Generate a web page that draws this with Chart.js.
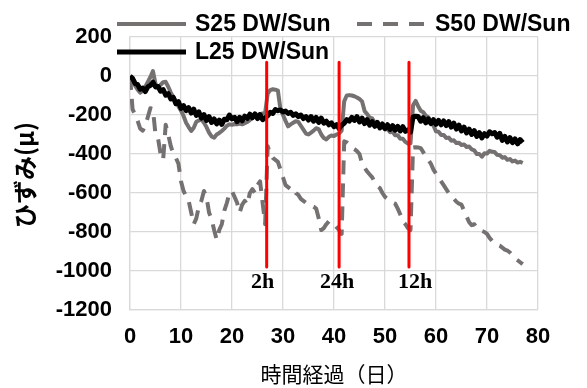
<!DOCTYPE html>
<html>
<head>
<meta charset="utf-8">
<script src="https://cdn.jsdelivr.net/npm/chart.js@4/dist/chart.umd.min.js"></script>
<style>
html,body{margin:0;padding:0;background:#fff;}
#wrap{width:587px;height:388px;position:relative;}
</style>
</head>
<body>
<div id="wrap"><canvas id="c" width="587" height="388"></canvas></div>
<script>
// Values sampled every half day (index i -> day i/2)
const seriesNames = ['S25 DW/Sun', 'S50 DW/Sun', 'L25 DW/Sun'];
const stepDays = 0.5;
const s25 = [
  0,-30, -50,-70, -85,-75, -55,-30, -5,25, -40,-60, -45,-32, -30,-55, -85,-110, -130,-155,
  -178,-205, -240,-262, -282,-265, -235,-228, -222,-240, -262,-290, -310,-316, -300,-292, -282,-270, -255,-248,
  -250,-246, -248,-244, -248,-242, -236,-226, -215,-205, -200,-196, -192,-188, -90,-72, -68,-70, -75,-170,
  -200,-230, -258,-248, -240,-232, -235,-255, -275,-295, -300,-290, -280,-268, -272,-300, -318,-325, -312,-305,
  -308,-300, -295,-280, -130,-100, -98,-100, -104,-110, -118,-130, -180,-195, -214,-218, -240,-242, -258,-258,
  -274,-272, -288,-286, -304,-304, -322,-322, -338,-346, -345,-150, -128,-155, -178,-186, -204,-211, -242,-254,
  -284,-286, -302,-302, -318,-316, -332,-330, -344,-342, -354,-351, -364,-362, -376,-381, -400,-400, -414,-396,
  -398,-384, -389,-390, -404,-406, -419,-416, -430,-426, -438,-434, -444,-440, -446
];
const s50 = [
  0,-170, -200,-230, -270,-280, -255,-210, -165,-170, -300,-320, -400,-430, -250,-300, -360,-400, -420,-450,
  -540,-590, -615,-640, -700,-760, -730,-670, -640,-590, -620,-700, -735,-790, -840,-790, -760,-690, -650,-600,
  -590,-620, -650,-700, -660,-640, -660,-600, -580,-600, -560,-540, -650,-760, -360,-400, -420,-430, -440,-480,
  -520,-560, -570,-580, -575,-600, -610,-630, -640,-650, -660,-665, -670,-680, -730,-790, -780,-760, -745,-750,
  -760,-775, -790,-810, -335,-340, -350,-367, -375,-385, -400,-450, -470,-490, -505,-520, -545,-565, -575,-600,
  -620,-630, -640,-650, -655,-680, -710,-745, -760,-780, -790,-367, -365,-367, -370,-390, -410,-430, -450,-480,
  -500,-520, -540,-560, -580,-600, -610,-630, -645,-655, -660,-690, -720,-750, -765,-760, -780,-790, -795,-800,
  -810,-830, -845,-860, -865,-870, -880,-890, -895,-905, -920,-935, -945,-955, -965
];
const l25 = [
  0,-12, -38,-44, -68,-62, -80,-56, -48,-32, -56,-54, -78,-70, -98,-90, -118,-110, -142,-132,
  -166,-152, -178,-162, -190,-170, -202,-184, -216,-198, -228,-208, -238,-220, -246,-226, -248,-222, -224,-200,
  -220,-212, -234,-212, -230,-206, -218,-196, -214,-194, -218,-198, -224,-214, -204,-186, -192,-172, -178,-174,
  -184,-180, -192,-186, -202,-194, -208,-200, -218,-208, -226,-208, -232,-212, -238,-216, -242,-232, -250,-240,
  -260,-250, -270,-252, -242,-224, -232,-212, -228,-208, -236,-216, -244,-224, -252,-234, -258,-238, -266,-246,
  -270,-250, -274,-254, -278,-258, -282,-260, -284,-276, -288,-210, -206,-208, -232,-214, -240,-220, -244,-224,
  -248,-228, -250,-230, -254,-234, -262,-242, -272,-252, -282,-262, -292,-272, -300,-280, -310,-290, -318,-296,
  -308,-286, -296,-290, -314,-294, -330,-310, -338,-316, -342,-322, -348,-326, -342
];
// vertical red marker lines and their labels
const markerDays = [26.8, 41.0, 54.7];
const markerTop = 70;
const markerBottom = -980;
const markerLabels = ['2h', '24h', '12h'];
const markerLabelDays = [26.0, 40.6, 55.9];
const markerLabelValue = -1060;
// axis settings
const xTicks = [0, 80, 10];   // min, max, step
const yTicks = [-1200, 200, 200];
const xTitle = '時間経過（日）';
const yTitle = 'ひずみ(μ)';

const toXY = arr => arr.map((v, i) => ({x: i * stepDays, y: v}));

const GRAY = '#767171';
const datasets = [];
markerDays.forEach((d, k) => {
  datasets.push({
    label: 'marker' + k, data: [{x: d, y: markerTop}, {x: d, y: markerBottom}],
    borderColor: '#ff0000', borderWidth: 3, pointRadius: 0, order: 0
  });
});
datasets.push({label: seriesNames[2], data: toXY(l25), borderColor: '#000000', borderWidth: 5, pointRadius: 0, order: 1});
datasets.push({label: seriesNames[0], data: toXY(s25), borderColor: GRAY, borderWidth: 4, pointRadius: 0, order: 2});
datasets.push({label: seriesNames[1], data: toXY(s50), borderColor: GRAY, borderWidth: 4, borderDash: [14, 9], pointRadius: 0, order: 3});

const legendItems = [
  {name: seriesNames[0], color: GRAY, dash: [], width: 4, x: 117, y: 24},
  {name: seriesNames[1], color: GRAY, dash: [15, 11], width: 4, x: 357, y: 24},
  {name: seriesNames[2], color: '#000', dash: [], width: 5, x: 117, y: 52}
];

const customPlugin = {
  id: 'custom',
  afterDatasetsDraw(chart) {
    const ctx = chart.ctx;
    const xs = chart.scales.x, ys = chart.scales.y;
    ctx.save();
    ctx.fillStyle = '#000';
    ctx.font = 'bold 22px "Liberation Serif", "Times New Roman", serif';
    ctx.textAlign = 'center';
    ctx.textBaseline = 'middle';
    markerLabels.forEach((t, k) => {
      ctx.fillText(t, xs.getPixelForValue(markerLabelDays[k]), ys.getPixelForValue(markerLabelValue));
    });
    ctx.restore();
  },
  afterDraw(chart) {
    const ctx = chart.ctx;
    ctx.save();
    legendItems.forEach(it => {
      ctx.beginPath();
      ctx.setLineDash(it.dash);
      ctx.strokeStyle = it.color;
      ctx.lineWidth = it.width;
      ctx.moveTo(it.x, it.y);
      ctx.lineTo(it.x + 69, it.y);
      ctx.stroke();
      ctx.setLineDash([]);
      ctx.fillStyle = '#000';
      ctx.font = 'bold 23px "Liberation Sans", Arial, sans-serif';
      ctx.textAlign = 'left';
      ctx.textBaseline = 'middle';
      ctx.fillText(it.name, it.x + 78, it.y + 1);
    });
    // y axis title, rotated, starting near the bottom of the plot
    const area = chart.chartArea;
    ctx.translate(25, area.bottom - 82);
    ctx.rotate(-Math.PI / 2);
    ctx.font = 'bold 24px "Noto Sans CJK JP", sans-serif';
    ctx.textAlign = 'left';
    ctx.textBaseline = 'middle';
    ctx.fillText(yTitle, 0, 0);
    ctx.restore();
  }
};

new Chart(document.getElementById('c'), {
  type: 'line',
  data: {datasets},
  options: {
    responsive: false,
    animation: false,
    events: [],
    layout: {padding: {top: 37, right: 49, left: 0, bottom: 0}},
    plugins: {legend: {display: false}, tooltip: {enabled: false}},
    elements: {line: {tension: 0, borderCapStyle: 'butt', borderJoinStyle: 'round'}},
    scales: {
      x: {
        type: 'linear', min: xTicks[0], max: xTicks[1],
        ticks: {stepSize: xTicks[2], color: '#000', padding: 14, callback: v => String(v),
          font: {family: '"Liberation Sans", Arial, sans-serif', size: 22, weight: 'bold'}},
        grid: {color: '#d9d9d9', lineWidth: 1.3, drawTicks: false},
        border: {color: '#d9d9d9', width: 1.3},
        title: {display: true, text: xTitle, color: '#000', padding: {top: 0, bottom: 1},
          font: {family: '"Noto Sans CJK JP", sans-serif', size: 21, weight: 'normal'}},
        afterFit(s) { s.height = 78; }
      },
      y: {
        type: 'linear', min: yTicks[0], max: yTicks[1],
        ticks: {stepSize: yTicks[2], color: '#000', padding: 18, callback: v => String(v),
          font: {family: '"Liberation Sans", Arial, sans-serif', size: 22, weight: 'bold'}},
        grid: {color: '#d9d9d9', lineWidth: 1.3, drawTicks: false},
        border: {color: '#d9d9d9', width: 1.3},
        afterFit(s) { s.width = 130; }
      }
    }
  },
  plugins: [customPlugin]
});
</script>
</body>
</html>
